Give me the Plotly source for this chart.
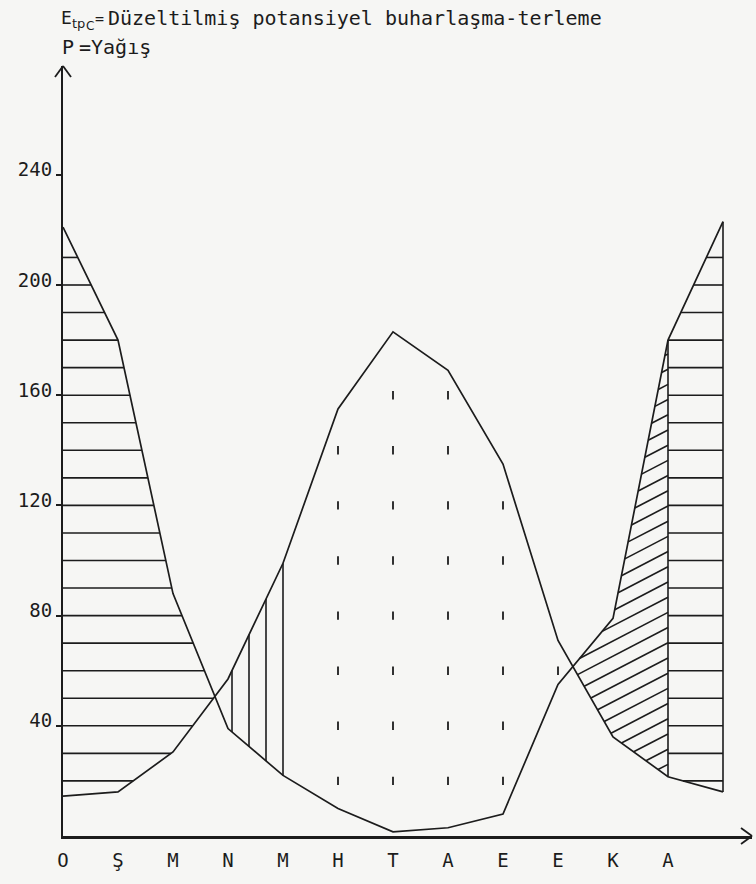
import numpy as np
import plotly.graph_objects as go

# Monthly water balance (mm): precipitation P and corrected potential
# evapotranspiration Etp_c. Position 12 repeats January to close the year.
months = ["O", "Ş", "M", "N", "M", "H", "T", "A", "E", "E", "K", "A"]
month_pos = list(range(13))
precip = [221, 180, 88, 39, 22, 10, 1.5, 3, 8, 55, 79, 180, 223]
etp = [14.5, 16, 30.5, 57, 99, 155, 183, 169, 135, 71, 36, 21.5, 16]
y_ticks = [40, 80, 120, 160, 200, 240]

util_end = 4        # soil-moisture use ends (May)
recharge_end = 11   # soil-moisture recharge ends (December)

INK = "#1c1c1c"
PAPER = "#f6f6f4"
FONT = "DejaVu Sans Mono"
SANS = "DejaVu Sans"

W, H = 756, 884
ML, MR, MT, MB = 63, 4, 66, 48
PX_PER_MONTH = 55.0
PX_PER_UNIT = 2.755
plot_w = W - ML - MR
plot_h = H - MT - MB
x_max = plot_w / PX_PER_MONTH
y_max = plot_h / PX_PER_UNIT

xp = np.array(month_pos, dtype=float)
P = np.array(precip, dtype=float)
E = np.array(etp, dtype=float)


def p_at(x):
    return np.interp(x, xp, P)


def e_at(x):
    return np.interp(x, xp, E)


def crossing(a, b):
    """x where P - Etp changes sign between positions a and b."""
    d0 = P[a] - E[a]
    d1 = P[b] - E[b]
    return a + d0 / (d0 - d1)


def runs(xs, mask):
    out = []
    start = None
    for i, m in enumerate(mask):
        if m and start is None:
            start = i
        elif not m and start is not None:
            out.append((xs[start], xs[i - 1]))
            start = None
    if start is not None:
        out.append((xs[start], xs[-1]))
    return out


def line_segments(xa, xb, func, lo, hi, min_len=0.03):
    """Pieces of y=func(x) on [xa, xb] lying between curves lo and hi."""
    xs = np.linspace(xa, xb, 4001)
    ys = func(xs)
    mask = (lo(xs) < ys) & (ys < hi(xs))
    segs = []
    for s, e in runs(xs, mask):
        if e - s > min_len:
            segs.append(((s, float(func(s))), (e, float(func(e)))))
    return segs


def to_xy(segs):
    xs, ys = [], []
    for (x0, y0), (x1, y1) in segs:
        xs += [x0, x1, None]
        ys += [y0, y1, None]
    return xs, ys


xc_spring = crossing(2, 3)
xc_autumn = crossing(9, 10)

# Water surplus: horizontal hatching where P exceeds Etp
h_levels = list(range(20, 220, 10))
surplus = []
for lvl in h_levels:
    f = (lambda v: (lambda x: np.full_like(np.asarray(x, dtype=float), v)))(lvl)
    surplus += line_segments(0, xc_spring, f, e_at, p_at)
    surplus += line_segments(recharge_end, 12, f, e_at, p_at)

# Boundary verticals of the late-year surplus block
bounds = []
for xv in (recharge_end, 12):
    bounds.append(((xv, float(p_at(xv))), (xv, float(e_at(xv)))))

# Soil-moisture utilisation: vertical hatching between the spring crossing and May
util = []
step_v = 17 / PX_PER_MONTH
xv = float(util_end)
while xv > xc_spring + 0.05:
    util.append(((xv, float(p_at(xv))), (xv, float(e_at(xv)))))
    xv -= step_v

# Soil-moisture recharge: diagonal hatching between the autumn crossing and December
slope = 0.52 * PX_PER_MONTH / PX_PER_UNIT
gap = 15.2 / PX_PER_UNIT
recharge = []
b = 26.0
while b < P[recharge_end] + 30:
    f = (lambda bb: (lambda x: bb + slope * (np.asarray(x, dtype=float) - recharge_end)))(b)
    recharge += line_segments(xc_autumn, recharge_end, f, e_at, p_at, min_len=0.02)
    b += gap

# Water deficit: dotted grid where Etp exceeds P after utilisation
dot_x, dot_y = [], []
for i in month_pos:
    if i <= util_end or E[i] <= P[i]:
        continue
    for lvl in range(20, 180, 20):
        if P[i] + 3 < lvl < E[i] - 3:
            dot_x.append(i)
            dot_y.append(lvl)

fig = go.Figure()

hatch_style = dict(color=INK, width=1.6)
for segs in (surplus, bounds, util, recharge):
    sx, sy = to_xy(segs)
    fig.add_trace(go.Scatter(x=sx, y=sy, mode="lines", line=hatch_style,
                             hoverinfo="skip", showlegend=False, cliponaxis=False))

fig.add_trace(go.Scatter(x=dot_x, y=dot_y, mode="markers",
                         marker=dict(symbol="line-ns", size=6,
                                     line=dict(color=INK, width=1.8)),
                         hoverinfo="skip", showlegend=False))

fig.add_trace(go.Scatter(x=month_pos, y=precip, mode="lines", name="P",
                         line=dict(color=INK, width=1.7), showlegend=False,
                         cliponaxis=False))
fig.add_trace(go.Scatter(x=month_pos, y=etp, mode="lines", name="Etp",
                         line=dict(color=INK, width=1.7), showlegend=False,
                         cliponaxis=False))

# Axis arrowheads, sized in pixels at the ends of the two axes
arrow = dict(type="line", xref="paper", yref="paper", xsizemode="pixel",
             ysizemode="pixel", line=dict(color=INK, width=1.8))
shapes = [
    dict(arrow, xanchor=1, yanchor=0, x0=-11, y0=8, x1=0, y1=0),
    dict(arrow, xanchor=1, yanchor=0, x0=-11, y0=-8, x1=0, y1=0),
    dict(arrow, xanchor=0, yanchor=1, x0=-8, y0=-11, x1=0, y1=0),
    dict(arrow, xanchor=0, yanchor=1, x0=8, y0=-11, x1=0, y1=0),
]


def px(xpix):
    return (xpix - ML) / plot_w


def py(ypix):
    return (H - MB - ypix) / plot_h


def label(text, x, y, size, family=FONT):
    return dict(text=text, x=px(x), y=py(y), xref="paper", yref="paper",
                xanchor="left", yanchor="middle", showarrow=False,
                borderpad=0, font=dict(family=family, size=size, color=INK))


annotations = [
    label("E", 60, 18, 18),
    label("tp", 71, 23, 13, SANS),
    label("C", 85, 26, 12, SANS),
    label("=", 94, 19, 15),
    label("Düzeltilmiş potansiyel buharlaşma-terleme", 107, 18, 20),
    label("P", 61, 47, 20),
    label("=Yağış", 78, 47, 20),
]

fig.update_layout(
    width=W, height=H,
    margin=dict(l=ML, r=MR, t=MT, b=MB),
    paper_bgcolor=PAPER, plot_bgcolor=PAPER,
    shapes=shapes, annotations=annotations,
    xaxis=dict(range=[0, x_max], showgrid=False, zeroline=False,
               showline=True, linecolor=INK, linewidth=2.8,
               tickvals=list(range(12)), ticktext=months, ticks="",
               ticklabelstandoff=5,
               tickfont=dict(family=FONT, size=19, color=INK)),
    yaxis=dict(range=[0, y_max], showgrid=False, zeroline=False,
               showline=True, linecolor=INK, linewidth=2,
               tickvals=y_ticks, ticktext=[str(v) for v in y_ticks],
               ticks="outside", ticklen=5, tickwidth=1.5, tickcolor=INK,
               ticklabelshift=-5,
               tickfont=dict(family=FONT, size=19, color=INK)),
)

fig.write_html("out.html")
